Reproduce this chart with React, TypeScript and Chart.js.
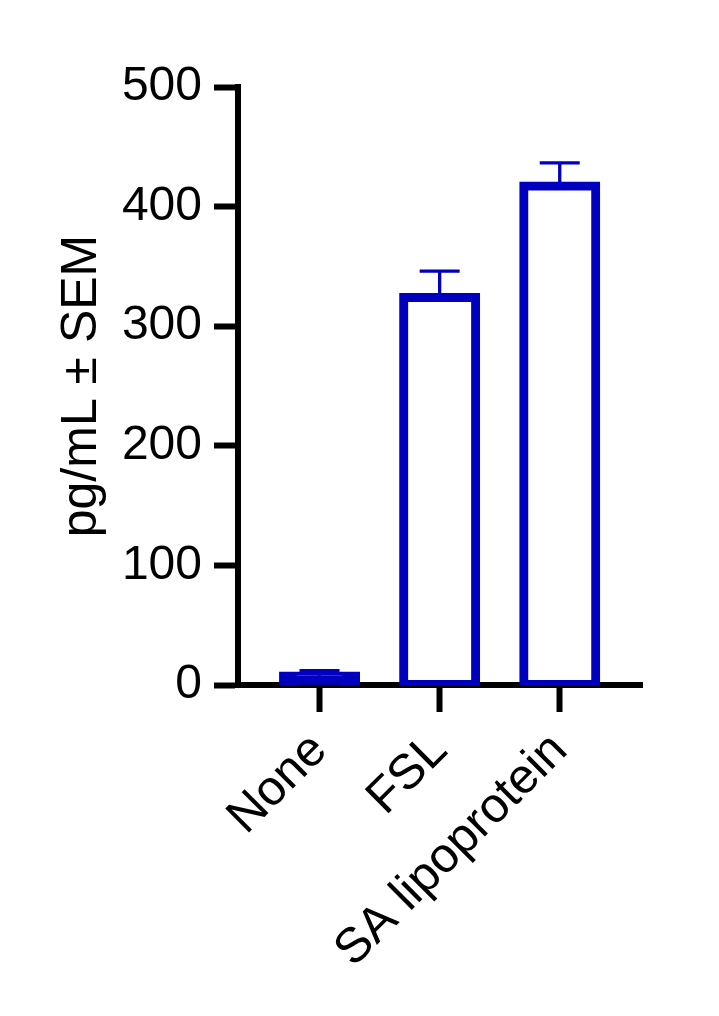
import React, { useEffect, useRef } from 'react';
import { Chart, registerables } from 'chart.js';

Chart.register(...registerables);

const categories = ['None', 'FSL', 'SA lipoprotein'];
const means = [7.5, 324, 417.3];
const sems = [4.5, 22, 19.3];
const yTicks = [0, 100, 200, 300, 400, 500];

const BLUE = '#0000BE';
const FONT = "'Liberation Sans', Arial, Helvetica, sans-serif";
const BORDER = 9;

export default function App() {
  const ref = useRef<HTMLCanvasElement>(null);

  useEffect(() => {
    document.body.style.margin = '0';
    const canvas = ref.current;
    if (!canvas) return;

    const errorBars = {
      id: 'errorBars',
      afterDatasetsDraw(chart: any) {
        const { ctx } = chart;
        const x = chart.scales.x;
        const y = chart.scales.y;
        ctx.save();
        ctx.strokeStyle = BLUE;
        ctx.lineWidth = 3.3;
        ctx.lineCap = 'butt';
        means.forEach((m, i) => {
          const px = x.getPixelForValue(i);
          const yBar = y.getPixelForValue(m);
          const yErr = y.getPixelForValue(m + sems[i]);
          ctx.beginPath();
          ctx.moveTo(px, yBar);
          ctx.lineTo(px, yErr);
          ctx.moveTo(px - 20, yErr);
          ctx.lineTo(px + 20, yErr);
          ctx.stroke();
        });
        ctx.restore();
      },
    };

    const chart = new Chart(canvas, {
      type: 'bar',
      data: {
        datasets: [
          {
            data: means.map((m, i) => ({ x: i, y: m })),
            backgroundColor: (c: any) => {
              const yS = c.chart.scales?.y;
              if (!yS || c.raw == null) return '#ffffff';
              const h = yS.getPixelForValue(0) - yS.getPixelForValue(c.raw.y);
              return h < BORDER * 2 ? BLUE : '#ffffff';
            },
            borderColor: BLUE,
            borderWidth: BORDER,
            borderSkipped: false,
            inflateAmount: BORDER / 2,
            barThickness: 72,
          } as any,
        ],
      },
      options: {
        responsive: false,
        animation: false,
        devicePixelRatio: 1,
        layout: { padding: { top: 87, right: 77, left: 0, bottom: 0 } },
        plugins: { legend: { display: false }, tooltip: { enabled: false } },
        scales: {
          x: {
            type: 'linear',
            min: -0.679,
            max: 2.685,
            offset: false,
            z: 1,
            afterFit: (s: any) => {
              s.height = 331;
            },
            afterBuildTicks: (s: any) => {
              s.ticks = categories.map((_, i) => ({ value: i }));
            },
            grid: {
              display: true,
              offset: false,
              drawOnChartArea: false,
              drawTicks: true,
              tickLength: 27,
              tickWidth: 6,
              tickColor: '#000',
              color: '#000',
            },
            border: { display: true, width: 6, color: '#000' },
            ticks: {
              autoSkip: false,
              maxRotation: 45,
              minRotation: 45,
              padding: 10,
              color: '#000',
              font: { family: FONT, size: 49 },
              callback: (_v: any, i: number) => categories[i] ?? '',
            },
          },
          y: {
            type: 'linear',
            min: 0,
            max: 500,
            z: 1,
            afterFit: (s: any) => {
              s.width = 238;
            },
            afterBuildTicks: (s: any) => {
              s.ticks = yTicks.map((v) => ({ value: v }));
            },
            grid: {
              display: true,
              drawOnChartArea: false,
              drawTicks: true,
              tickLength: 24,
              tickWidth: 6,
              tickColor: '#000',
              color: '#000',
            },
            border: { display: true, width: 6, color: '#000' },
            ticks: {
              padding: 12,
              color: '#000',
              font: { family: FONT, size: 48 },
            },
            title: {
              display: true,
              text: 'pg/mL ± SEM',
              color: '#000',
              font: { family: FONT, size: 50 },
              padding: { top: 52, bottom: 0 },
            },
          },
        },
      },
      plugins: [errorBars],
    } as any);

    return () => chart.destroy();
  }, []);

  return (
    <div style={{ width: 719, height: 1016, background: '#fff' }}>
      <canvas ref={ref} width={719} height={1016} style={{ display: 'block' }} />
    </div>
  );
}
